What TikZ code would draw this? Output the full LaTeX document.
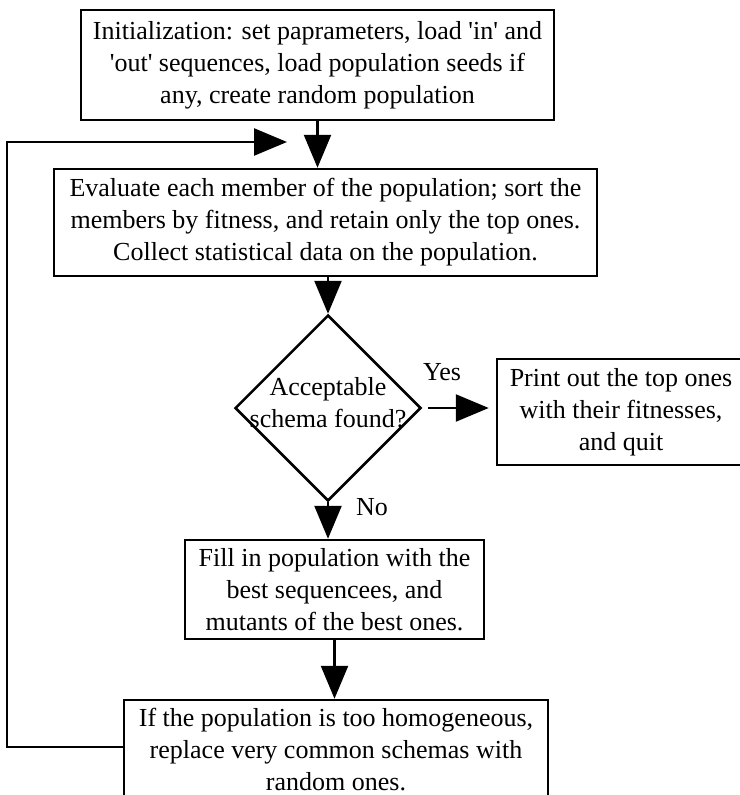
\documentclass[tikz,border=0pt]{standalone}
\usepackage{fontspec}
\setmainfont{Liberation Serif}
\usetikzlibrary{arrows.meta,shapes.geometric}

\tikzset{
  txt/.style={font=\fontsize{26}{32}\selectfont, align=center},
  stepbox/.style={txt, draw, line width=2.5pt, inner sep=0pt},
  decision/.style={diamond, draw, line width=2.5pt, inner sep=0pt, aspect=1},
  flow/.style={line width=2.5pt, -{Triangle[length=33pt,width=27pt]}}
}
\newcommand{\sq}{\textquotesingle}

\begin{document}
\begin{tikzpicture}[x=1pt,y=1pt]
          \useasboundingbox (0,0) rectangle (739,-795);
          \node[stepbox, minimum width=473pt, minimum height=110pt] (init) at (317.5,-65)
            {Initialization: set paprameters, load \sq in\sq{} and\\\sq out\sq{} sequences, load population seeds if\\any, create random population};
          \node[stepbox, minimum width=543pt, minimum height=107pt] (eval) at (325.5,-222.5)
            {Evaluate each member of the population; sort the\\members by fitness, and retain only the top ones.\\Collect statistical data on the population.};
          \node[decision, minimum width=186pt, minimum height=186pt,
            label={[txt, yshift=5pt]center:Acceptable\\schema found?}] (accept) at (328,-408) {};
          \node[stepbox, minimum width=248pt, minimum height=106pt] (print) at (621,-412)
            {Print out the top ones\\with their fitnesses,\\and quit};
          \node[stepbox, minimum width=299pt, minimum height=99pt] (fill) at (334.5,-589.5)
            {Fill in population with the\\best sequencees, and\\mutants of the best ones.};
          \node[stepbox, minimum width=424pt, minimum height=100pt] (homog) at (336,-750)
            {If the population is too homogeneous,\\replace very common schemas with\\random ones.};
          \node[txt] (yes) at (442,-372) {Yes};
          \node[txt] (no) at (372,-507) {No};
          \coordinate (loopcorner) at (7,-142);
          \coordinate (looptip) at (287,-142);
          \draw[flow] (init.south) -- (init.south |- eval.north);
          \draw[flow] (accept.north |- eval.south) -- (accept.north);
          \draw[flow, shorten <=6pt, shorten >=7pt] (accept.east) -- (accept.east -| print.west);
          \draw[flow] (accept.south) -- (accept.south |- fill.north);
          \draw[flow] (fill.south) -- (fill.south |- homog.north);
          \draw[flow] ([yshift=3pt]homog.west) -| (loopcorner) -- (looptip);
        \end{tikzpicture}
\end{document}
